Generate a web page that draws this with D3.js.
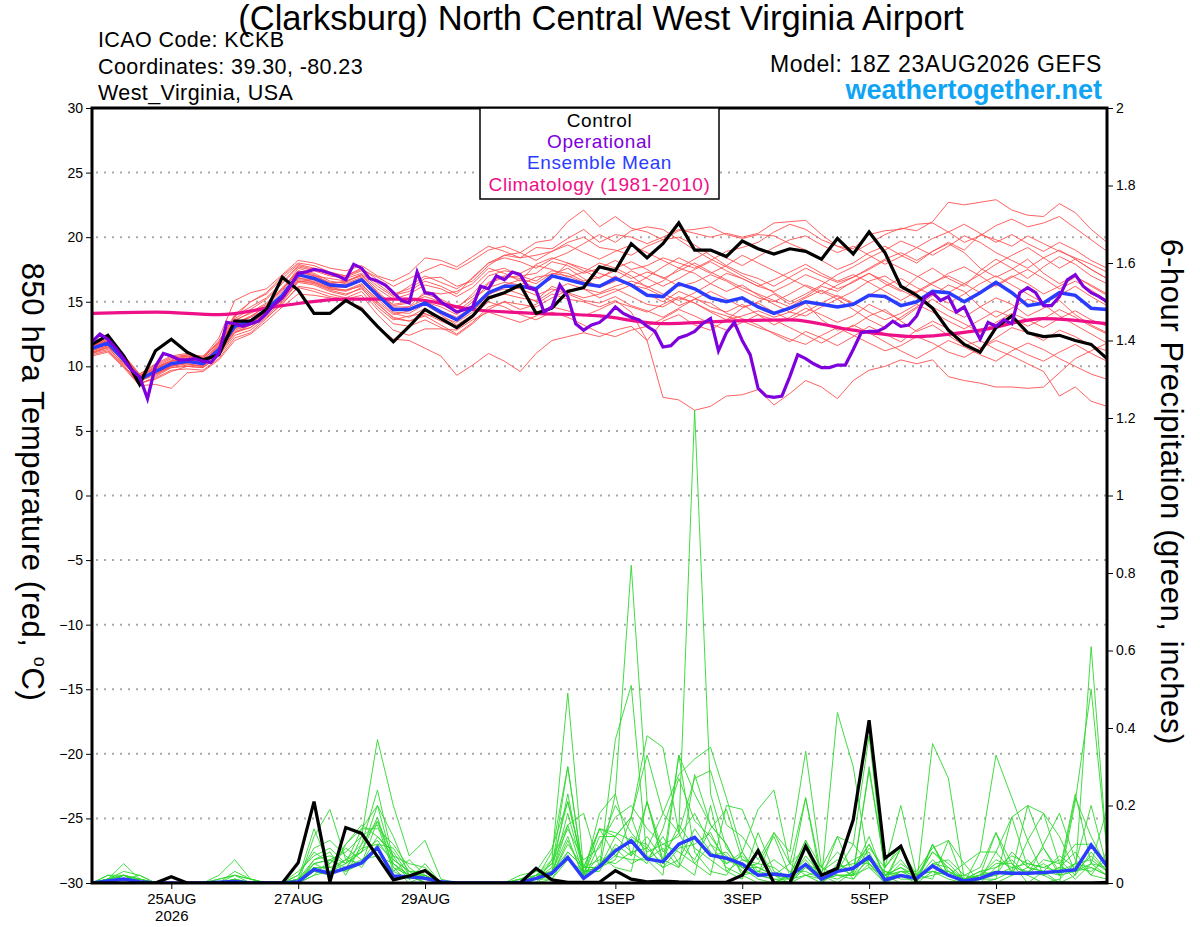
<!DOCTYPE html>
<html>
<head>
<meta charset="utf-8">
<script src="https://cdn.jsdelivr.net/npm/d3@7"></script>
<style>
  body { margin: 0; background: #fff; }
  text { font-family: "Liberation Sans", Arial, Helvetica, sans-serif; }
</style>
</head>
<body>
<svg id="chart"></svg>
<script>
// time axis: GEFS run 18Z 23AUG2026, 6-hourly to +384h
var startTime = Date.UTC(2026, 7, 23, 18);
var stepHours = 6;
var operStepHours = 3;
var climStepHours = 24;

var xTickDates = ["2026-08-25", "2026-08-27", "2026-08-29", "2026-09-01", "2026-09-03", "2026-09-05", "2026-09-07"];
var xTickLabels = ["25AUG", "27AUG", "29AUG", "1SEP", "3SEP", "5SEP", "7SEP"];
var tempTicks = [-30, -25, -20, -15, -10, -5, 0, 5, 10, 15, 20, 25, 30];
var precipTicks = [0, 0.2, 0.4, 0.6, 0.8, 1, 1.2, 1.4, 1.6, 1.8, 2];

// 850 hPa temperature (C)
var controlTemp = [11.7,12.4,10.8,8.6,11.2,12.1,11.1,10.5,10.9,13.5,13.5,14.4,16.9,15.9,14.1,14.1,15.1,14.4,13.1,11.9,
  13.1,14.4,13.7,13.0,13.9,15.3,15.7,16.3,14.1,14.5,15.8,16.1,17.7,17.4,19.5,18.4,19.5,21.1,19.0,19.0,
  18.5,19.7,19.1,18.7,19.1,18.9,18.3,19.9,18.7,20.4,18.8,16.2,15.5,14.5,12.8,11.7,11.1,13.0,13.9,12.6,
  12.3,12.4,12.0,11.7,10.6];

var meanTemp = [11.4,11.8,10.5,9.0,9.6,10.2,10.4,10.2,11.3,13.1,13.5,14.4,15.5,17.1,16.8,16.3,16.2,16.7,15.5,14.4,
  14.4,14.9,14.2,13.6,14.5,15.7,16.2,16.2,16.0,17.0,16.7,16.4,16.2,16.8,16.3,15.5,15.4,16.4,16.0,15.3,
  15.0,15.3,14.6,14.1,14.5,15.0,14.8,14.6,14.8,15.5,15.4,14.7,15.0,15.8,15.7,15.0,15.7,16.5,15.7,14.7,
  14.9,15.7,15.5,14.5,14.4];

// operational run, 3-hourly
var operTemp = [11.9,12.5,12.1,11.4,10.6,9.7,9.2,7.5,10.0,11.0,10.8,10.5,10.5,10.6,10.4,10.3,11.0,13.4,13.3,13.1,
  13.3,13.5,14.1,14.8,15.3,16.2,17.2,17.3,17.5,17.4,17.2,17.0,16.7,17.9,17.6,16.8,16.6,16.3,15.7,15.1,
  14.9,17.3,15.7,15.6,15.0,14.6,14.2,14.4,14.6,16.2,16.0,17.0,16.7,17.3,17.1,16.1,15.9,14.2,14.6,16.3,
  15.4,13.3,12.8,13.2,13.4,13.9,14.6,14.1,13.8,13.6,13.1,12.7,11.5,11.6,12.2,12.4,12.7,13.3,13.7,11.2,
  12.6,13.4,12.0,10.9,8.3,7.7,7.6,7.7,9.2,10.9,10.6,10.2,9.9,9.9,10.1,10.1,11.3,12.6,12.7,12.7,
  13.0,13.5,13.1,13.2,13.9,15.3,15.7,15.1,15.4,14.2,14.6,13.3,12.1,13.4,13.1,13.6,13.3,15.7,16.1,15.7,
  14.7,14.7,15.4,16.7,17.1,16.2,15.7,15.4,15.0];

// climatology 1981-2010, daily
var climTemp = [14.1,14.2,14.0,14.7,15.2,15.2,14.4,14.1,13.9,13.3,13.5,13.6,12.8,12.3,12.8,13.7,13.3];

// ensemble members
var tempMembers = [
  [11.8,12.3,10.9,9.4,10.2,10.8,11.0,10.6,12.0, 13.8,15.0,15.6,16.8,17.9,17.6,17.2,17.0,17.5,16.9,16.2,16.8,17.4,
   17.9,17.5,18.2,19.0,19.3,18.8,19.6,19.8,21.2,22.1,20.8,21.6,20.7,20.4,19.8,20.5,20.6,20.8,20.2,19.9,20.2,
   20.1,19.5,19.0,18.2,17.5,18.0,18.8,19.3,18.6,18.0,18.9,19.5,18.8,17.6,16.9,17.5,18.3,17.2,16.4,17.0,16.2,15.5],
  [11.0,11.5,10.1,8.7,9.0,9.6,10.0,9.9,10.9, 12.6,13.0,14.0,15.2,16.6,16.4,15.9,15.6,16.0,14.8,13.8,13.5,13.9,
   13.2,12.5,13.4,14.6,15.0,14.4,14.8,15.6,15.2,15.0,14.6,15.1,14.2,12.0,7.6,7.4,6.6,6.9,7.7,7.8,8.2,
   7.0,7.9,8.9,8.4,7.5,8.9,9.7,10.0,10.5,10.2,10.5,9.2,8.9,8.7,8.4,8.4,8.3,8.4,9.5,10.6,11.2,11.8],
  [11.2,11.6,10.3,8.9,9.3,10.0,10.5,10.4,11.0, 12.9,13.3,14.2,15.4,16.9,16.5,16.0,15.8,16.3,15.2,14.1,13.8,14.5,
   13.6,12.9,13.8,15.2,15.6,15.3,15.1,16.2,15.7,15.3,15.6,16.0,15.4,14.8,14.6,15.3,14.9,14.2,13.6,13.9,14.3,
   13.8,14.2,14.9,13.6,12.8,13.1,13.9,14.4,13.5,12.7,13.2,12.4,11.6,12.0,11.3,10.8,10.2,9.6,7.7,8.4,7.3,6.9],
  [10.8,11.1,9.9,8.5,8.6,8.3,9.5,9.6,10.5, 12.0,12.5,13.5,14.6,15.6,15.5,15.3,15.0,14.6,13.1,12.1,12.0,11.4,
   10.8,9.3,10.1,11.0,10.4,9.6,11.0,12.0,12.3,12.6,12.3,12.8,13.1,12.0,13.5,14.0,13.2,12.8,13.6,14.5,15.0,
   15.6,14.8,15.4,16.2,15.8,16.6,17.2,16.4,15.8,16.9,17.6,16.8,16.2,17.4,18.3,17.6,16.8,17.7,18.5,17.9,17.0,16.4],
  [11.6,12.0,10.7,9.2,9.9,10.5,10.9,10.8,11.8, 13.5,14.2,14.9,16.0,17.3,17.0,16.8,16.6,17.1,16.0,15.2,15.6,16.3,
   16.0,15.4,16.1,17.3,17.6,17.0,17.2,18.1,17.8,17.2,17.6,18.2,17.5,17.8,18.4,18.0,17.6,18.2,18.9,19.2,19.6,
   20.4,21.0,20.6,19.8,19.3,18.8,19.5,20.2,20.7,20.5,21.2,22.7,22.5,22.7,22.9,22.1,21.7,21.6,22.6,21.9,20.6,19.6],
  [11.3,11.9,10.6,9.1,9.7,10.3,10.2,10.0,11.3, 13.3,13.9,14.6,15.8,17.4,17.1,16.4,16.6,17.0,15.8,14.7,14.9,15.6,
   15.2,14.6,15.4,16.5,17.0,16.8,16.4,17.2,17.0,16.5,16.2,17.0,16.2,15.6,15.0,15.8,15.3,14.6,14.2,14.8,14.0,
   13.2,13.8,14.5,14.0,13.4,13.9,14.8,14.2,13.6,14.5,15.2,14.4,13.8,14.6,15.3,14.8,13.9,14.5,15.1,14.0,13.2,12.6],
  [11.5,11.7,10.4,8.8,9.5,10.1,10.3,10.3,11.6, 13.6,14.1,14.8,15.9,17.6,17.2,16.6,16.4,16.9,15.5,14.2,14.1,14.8,
   14.0,13.2,14.0,15.5,16.3,16.7,16.0,16.8,18.0,17.4,16.8,17.6,17.0,16.1,16.6,17.6,17.2,16.4,15.8,16.3,15.5,
   14.8,14.2,13.9,14.6,15.2,14.4,13.6,13.0,13.8,14.6,15.5,16.3,15.8,14.6,13.8,14.5,15.2,14.8,13.9,13.2,12.5,11.8],
  [11.1,11.4,10.2,9.0,9.8,10.4,10.7,10.6,11.9, 14.0,15.0,15.7,17.0,18.0,17.8,17.3,17.0,17.6,16.7,15.6,16.0,16.8,
   16.9,16.2,16.6,17.8,18.6,18.4,18.6,18.9,19.6,20.0,19.2,19.0,18.6,19.3,19.8,20.0,19.4,18.6,17.8,17.2,16.8,
   16.2,16.9,17.6,17.0,16.5,16.9,17.6,18.3,18.8,18.2,18.9,19.6,19.0,20.2,19.8,19.3,20.1,19.5,18.9,18.4,17.9,17.3],
  [11.9,12.2,10.6,9.3,9.9,10.4,10.6,10.4,11.5, 13.0,13.3,14.1,15.1,16.6,16.5,16.0,15.9,16.4,15.0,14.0,14.3,14.9,
   14.3,13.8,14.6,15.8,16.2,16.0,15.5,16.0,15.6,15.1,14.9,15.4,14.7,14.3,13.8,14.5,15.2,14.9,14.1,13.7,13.2,
   12.5,11.9,12.7,12.2,11.6,12.3,13.1,12.5,11.9,12.8,13.5,12.9,12.1,11.4,12.2,13.0,12.6,12.0,12.8,12.3,11.6,11.2],
  [11.4,11.8,10.5,9.1,9.6,10.2,10.4,10.1,11.2, 12.8,13.2,14.3,15.2,16.8,16.7,16.2,16.1,16.6,15.3,14.5,14.4,15.0,
   14.6,14.0,15.0,16.4,16.9,17.0,16.6,17.4,17.2,16.6,16.9,17.4,16.8,17.3,16.9,16.2,16.5,17.1,16.6,15.9,15.3,
   15.0,15.6,16.3,15.8,15.2,15.8,16.6,17.0,16.2,15.7,16.4,17.2,17.7,17.0,16.2,16.9,17.5,16.8,16.0,16.6,15.9,15.1],
  [11.0,11.3,10.0,8.6,9.2,9.9,10.0,9.9,10.8, 12.4,12.8,13.8,14.8,16.2,16.0,15.6,15.3,15.8,14.4,13.3,13.1,13.6,
   13.0,12.4,13.3,14.4,15.0,14.8,14.6,15.3,15.9,16.0,15.7,16.2,16.6,16.2,15.6,15.1,15.7,16.4,17.2,16.8,16.2,
   15.8,16.4,17.1,16.6,16.0,16.5,17.2,16.6,15.9,15.3,14.6,13.9,13.3,12.6,13.4,14.1,13.6,13.0,13.7,14.3,13.6,13.1],
  [11.7,12.1,10.8,9.3,10.0,10.6,10.8,10.5,11.7, 13.7,14.4,15.2,16.4,17.7,17.4,17.0,16.8,17.2,16.2,15.4,16.2,17.0,
   16.5,16.0,16.8,18.0,18.4,18.1,17.6,18.3,18.8,19.5,20.2,19.6,20.5,20.8,20.6,19.8,19.0,18.3,17.7,17.0,16.4,
   15.7,15.0,15.6,16.3,17.1,17.7,18.4,19.0,19.7,19.2,18.6,19.3,20.1,19.6,18.8,18.2,17.6,18.4,19.0,18.3,17.5,16.8],
  [11.2,11.6,10.4,9.2,9.4,9.9,10.1,10.0,11.1, 12.7,13.0,13.9,15.0,16.5,16.3,15.8,15.5,16.1,14.6,13.6,13.9,14.1,
   13.5,13.0,13.9,15.0,14.6,14.0,13.6,14.2,13.8,13.2,12.6,12.3,12.8,13.1,13.7,14.4,13.9,13.3,12.8,13.4,14.0,
   13.6,13.0,12.4,11.8,12.5,13.2,12.6,11.9,11.2,10.6,11.3,12.0,11.5,10.9,10.4,11.2,11.8,11.3,10.6,10.0,9.4,9.0],
  [11.6,11.9,10.6,9.0,9.5,10.0,10.3,10.2,11.4, 13.2,13.6,14.5,15.6,17.0,16.9,16.4,16.3,16.8,15.6,14.8,15.0,15.4,
   15.0,14.5,15.6,17.0,17.4,17.2,17.8,17.5,16.9,17.3,18.0,17.6,18.1,17.5,16.8,17.4,18.0,17.3,16.7,16.1,15.6,
   15.1,14.6,15.3,15.9,15.4,14.8,15.5,16.2,16.8,16.1,15.5,14.9,15.6,16.4,17.0,16.3,15.6,14.9,15.5,16.2,15.4,14.7],
  [11.3,11.7,10.3,8.9,9.6,10.2,10.6,10.5,11.6, 13.4,13.8,14.7,16.1,17.4,17.0,16.5,16.5,17.1,15.7,14.6,14.6,15.2,
   14.8,14.2,15.2,16.1,16.5,16.3,16.9,17.1,17.6,16.8,16.1,16.6,17.4,16.8,16.2,16.8,17.5,18.1,17.4,16.8,16.2,
   16.7,17.3,17.9,17.2,16.6,17.1,16.5,15.8,15.1,15.8,16.5,17.0,16.4,15.7,16.3,17.0,16.4,15.6,16.2,16.9,16.3,15.6],
  [11.5,12.0,10.8,9.4,10.1,10.7,10.9,10.7,12.2, 15.1,15.7,16.0,17.1,18.2,18.0,17.6,17.4,17.8,17.0,16.6,17.2,18.4,
   18.2,17.7,18.5,19.3,18.9,18.4,19.2,19.1,19.9,20.6,19.6,20.2,20.0,19.5,20.0,20.6,20.3,20.0,20.3,20.0,20.3,
   21.1,21.2,21.3,20.2,19.3,19.1,20.2,20.5,20.6,21.0,21.1,20.4,19.6,20.1,20.9,21.4,20.8,21.1,21.6,20.7,19.8,18.9],
  [10.9,11.2,10.0,8.7,9.1,9.7,9.8,9.7,10.6, 12.2,12.6,13.7,14.9,16.1,15.8,15.4,15.2,15.5,14.0,12.8,12.4,12.9,
   12.9,12.8,13.6,14.2,13.8,13.4,13.9,14.6,14.3,13.9,14.4,15.0,14.6,14.2,14.8,15.4,14.9,14.3,13.9,13.5,13.0,
   12.6,12.1,11.7,12.4,13.0,12.4,11.8,11.2,11.6,12.3,11.8,11.1,10.7,11.4,12.0,11.5,10.9,10.4,11.1,11.7,11.0,10.4],
  [11.8,12.2,10.9,9.2,9.8,10.4,10.5,10.3,11.5, 13.3,13.8,14.4,15.5,17.2,16.8,16.1,16.2,16.6,15.4,14.4,14.6,15.8,
   15.6,15.8,16.4,17.6,17.2,16.6,17.9,18.4,18.0,17.6,17.2,16.8,16.2,16.9,17.7,18.4,17.8,17.2,17.8,18.6,18.0,
   17.4,16.8,16.2,15.6,16.3,16.9,17.5,18.2,17.6,17.0,16.3,15.7,16.4,17.1,17.9,18.6,19.2,18.4,17.6,18.3,17.5,16.8],
  [11.1,11.5,10.4,9.0,9.4,10.0,10.2,10.0,11.0, 12.6,13.2,14.0,15.3,16.7,16.6,16.1,15.9,16.2,14.9,13.7,13.5,14.0,
   13.8,13.4,14.2,15.6,16.0,15.6,15.0,15.8,16.4,16.0,15.3,15.8,16.3,16.0,15.4,14.7,15.2,15.8,15.2,14.6,14.9,
   14.2,13.6,14.2,14.9,15.5,14.9,14.2,13.6,14.1,14.8,14.2,13.5,12.9,13.6,14.3,13.8,13.1,13.7,14.4,13.8,13.1,12.5],
  [11.6,12.1,10.6,9.2,9.9,10.4,10.8,10.7,11.8, 13.9,14.6,15.3,16.5,17.8,17.5,17.1,16.9,17.4,16.4,15.5,15.8,16.6,
   16.2,15.6,16.9,18.0,18.6,18.8,18.2,18.9,19.4,18.8,18.3,18.9,19.4,18.8,18.2,17.6,18.3,19.0,18.4,17.8,18.5,
   19.2,19.8,20.1,19.4,18.8,19.3,18.6,17.9,18.5,19.2,19.9,20.4,21.0,20.3,19.6,20.2,19.5,18.9,19.6,19.0,18.2,17.6]
];

// 6-hour precipitation (inches)
var controlPrecip = [0,0,0,0,0,0.016,0,0,0,0, 0,0,0,0.052,0.21,0.003,0.143,0.128,0.068,0.008,
  0.018,0.032,0,0,0,0,0,0,0.038,0.008, 0.002,0.002,0.002,0.032,0.01,0.003,0.005,0.003,0.002,0.002,
  0.002,0.02,0.083,0,0,0.095,0.02,0.038,0.163,0.42, 0.064,0.095,0,0,0,0,0,0,0,0, 0,0,0,0,0.002];

var meanPrecip = [0,0.005,0.01,0.003,0,0,0,0,0.002,0.004, 0,0,0,0.003,0.035,0.025,0.038,0.052,0.091,0.018,
  0.016,0.012,0.003,0,0,0,0,0.001,0.012,0.025, 0.066,0.012,0.042,0.083,0.109,0.062,0.055,0.1,0.118,0.072,
  0.064,0.049,0.02,0.023,0.018,0.048,0.01,0.03,0.038,0.068, 0.008,0.019,0.012,0.044,0.02,0.005,0.012,0.027,0.025,0.025,
  0.027,0.03,0.034,0.098,0.044];

var precipMembers = [
  [0,0.01,0.05,0.01,0,0,0,0,0,0, 0,0,0,0.02,0.08,0.05,0.1,0.14,0.2,0.05, 0.02,0,0,0,0,0,0,0.01,0.02,0.05,
   0.21,0.04,0.14,0.07,0.12,0.09,0.18,0.13,1.22,0.23, 0.09,0.04,0.01,0,0,0.05,0.02,0,0.03,0.1,
   0.02,0,0,0.03,0.02,0,0,0.04,0.06,0.02, 0,0.01,0.05,0.2,0.04],
  [0,0,0.02,0.01,0,0,0,0,0,0, 0,0,0,0.01,0.14,0.04,0.06,0.1,0.16,0.07, 0.01,0.03,0,0,0,0,0,0,0.01,0.08,
   0.3,0.02,0.18,0.23,0.82,0.21,0.06,0.04,0.28,0.15, 0.1,0.02,0,0,0.02,0.11,0.01,0.12,0.1,0.05,
   0,0.09,0,0.1,0.03,0.01,0.02,0.13,0.05,0, 0.03,0,0.02,0.61,0.08],
  [0,0.01,0.03,0.02,0,0,0,0,0.02,0.06, 0.01,0,0,0,0.05,0.06,0.08,0.12,0.37,0.2, 0.07,0.11,0.01,0,0,0,0,0,0.02,0.06,
   0.49,0.03,0.04,0.12,0.17,0.38,0.35,0.13,0.05,0.02, 0.2,0.19,0.09,0.02,0,0.02,0,0.04,0.02,0.09,
   0.04,0.2,0.02,0.01,0.11,0.05,0,0,0.02,0.11, 0.18,0.05,0.01,0.05,0.19],
  [0,0,0.01,0,0,0,0,0,0,0.02, 0,0,0,0,0.12,0.19,0.06,0.05,0.16,0.04, 0,0.02,0,0,0,0,0,0.02,0.03,0.02,
   0.15,0.18,0.04,0.37,0.51,0.06,0.02,0.33,0.08,0.03, 0.02,0.08,0.19,0.24,0.05,0.02,0.01,0.44,0.3,0.04,
   0,0.02,0,0.36,0.27,0.01,0,0.01,0.03,0.2, 0.09,0.03,0.23,0.05,0.02],
  [0,0.02,0.02,0,0,0,0,0,0,0, 0,0,0,0.01,0.04,0.02,0.1,0.15,0.12,0.07, 0.05,0.04,0,0,0,0,0,0,0.02,0.03,
   0.23,0.02,0.14,0.12,0.17,0.33,0.18,0.28,0.32,0.35, 0.22,0.08,0.02,0.13,0.08,0.34,0.04,0.12,0.02,0.3,
   0.04,0.09,0.01,0.1,0.02,0.05,0.08,0.33,0.22,0.11, 0.02,0,0.21,0.5,0.08],
  [0,0.01,0.01,0.02,0,0,0,0,0.01,0.02, 0.01,0,0,0.03,0.07,0.09,0.05,0.08,0.2,0.12, 0.02,0.01,0,0,0,0,0,0.01,0,0.01,
   0.08,0.04,0.04,0.23,0.07,0.21,0.08,0.13,0.27,0.29, 0.15,0.12,0.06,0.13,0.05,0.22,0.02,0.03,0.1,0.38,
   0.02,0.03,0.03,0.09,0.11,0,0.08,0.08,0.17,0.2, 0.18,0.12,0.03,0.07,0.03],
  [0,0,0.01,0.01,0,0,0,0,0,0.01, 0,0,0,0,0.02,0.06,0.03,0.12,0.15,0.03, 0.06,0.02,0,0,0,0,0,0,0.01,0.04,
   0.3,0.02,0.12,0.12,0.08,0.09,0.05,0.33,0.23,0.15, 0.1,0.02,0.09,0,0.02,0.11,0.04,0.02,0.02,0.06,
   0.01,0.09,0.02,0.08,0.04,0,0.01,0.08,0.03,0.02, 0.1,0.18,0.06,0.02,0.08],
  [0,0.01,0.02,0,0,0,0,0,0,0, 0,0,0,0.02,0.09,0.11,0.07,0.04,0.1,0.09, 0.03,0,0,0,0,0,0,0.01,0.03,0.09,
   0.21,0.04,0.04,0.06,0.17,0.06,0.12,0.05,0.02,0.2, 0.03,0.01,0.13,0.03,0.01,0.22,0,0.05,0.03,0.29,
   0.04,0.1,0,0.1,0.02,0.02,0.01,0.01,0.17,0.04, 0.09,0.02,0.22,0.12,0.04],
  [0,0,0,0,0,0,0,0,0,0.03, 0.01,0,0,0,0.05,0.03,0.06,0.08,0.11,0.05, 0.02,0.02,0,0,0,0,0,0,0,0.06,
   0.15,0.02,0.07,0.04,0.03,0.21,0.05,0.1,0.06,0.14, 0.19,0.06,0.05,0.04,0.01,0.02,0.03,0.06,0.01,0.07,
   0.03,0.01,0.01,0.08,0.05,0.01,0.02,0.03,0.02,0.04, 0.03,0.02,0.03,0.04,0.02],
  [0,0.01,0.01,0,0,0,0,0,0,0, 0,0,0,0,0.03,0.02,0.04,0.06,0.09,0.03, 0.01,0.05,0,0,0,0,0,0,0.01,0.02,
   0.1,0.04,0.14,0.13,0.11,0.1,0.04,0.06,0.14,0.08, 0.05,0.07,0.03,0.02,0.05,0.09,0,0.03,0.06,0.08,
   0,0.03,0.01,0.02,0.03,0.01,0.02,0.05,0.05,0.02, 0.06,0.05,0.1,0.1,0.05],
  [0,0,0.01,0.01,0,0,0,0,0,0.01, 0,0,0,0.01,0.06,0.08,0.02,0.1,0.24,0.06, 0.03,0.03,0,0,0,0,0,0,0.02,0.03,
   0.08,0.04,0.06,0.05,0.08,0.05,0.14,0.27,0.16,0.12, 0.06,0.04,0.05,0.12,0.02,0.06,0.01,0.04,0.05,0.05,
   0.02,0.06,0.01,0.06,0.02,0.01,0.03,0.02,0.08,0.04, 0.03,0.07,0.04,0.03,0.06],
  [0,0.01,0.02,0.01,0,0,0,0,0,0, 0,0,0,0,0.06,0.07,0.05,0.14,0.14,0.1, 0.04,0.01,0,0,0,0,0,0,0.01,0.02,
   0.18,0.03,0.04,0.07,0.06,0.06,0.09,0.04,0.12,0.07, 0.08,0.03,0.02,0.01,0,0.04,0.02,0.01,0.03,0.12,
   0.01,0.05,0.02,0.03,0.01,0,0.01,0.02,0.04,0.05, 0.04,0.03,0.05,0.06,0.03],
  [0,0,0.02,0,0,0,0,0,0,0.01, 0,0,0,0,0.04,0.04,0.03,0.05,0.12,0.08, 0.02,0,0,0,0,0,0,0,0,0.03,
   0.12,0.01,0.1,0.17,0.2,0.14,0.1,0.08,0.05,0.1, 0.04,0.02,0.03,0.06,0.03,0.03,0.01,0.02,0.02,0.04,
   0.02,0.04,0.01,0.05,0.06,0.02,0.04,0.13,0.02,0.03, 0.02,0.04,0.08,0.02,0.01],
  [0,0.02,0.01,0.01,0,0,0,0,0,0, 0,0,0,0.01,0.03,0.05,0.09,0.06,0.07,0.05, 0.01,0.02,0,0,0,0,0,0,0.01,0.01,
   0.06,0.03,0.03,0.1,0.07,0.12,0.06,0.15,0.09,0.06, 0.03,0.06,0.04,0.02,0.01,0.07,0.02,0.03,0.04,0.06,
   0.03,0.02,0.01,0.05,0.04,0.01,0.02,0.06,0.04,0.03, 0.05,0.02,0.05,0.04,0.02],
  [0,0.01,0.01,0,0,0,0,0,0,0, 0,0,0,0,0.02,0.03,0.05,0.08,0.17,0.04, 0.02,0.01,0,0,0,0,0,0,0.01,0.05,
   0.14,0.06,0.09,0.2,0.13,0.08,0.1,0.12,0.18,0.1, 0.07,0.04,0.04,0.02,0.02,0.05,0.03,0.08,0.04,0.1,
   0.02,0.04,0.02,0.04,0.03,0.01,0.03,0.04,0.07,0.05, 0.04,0.06,0.02,0.08,0.03],
  [0,0.01,0.02,0.01,0,0,0,0,0.01,0.02, 0.01,0,0,0.01,0.05,0.06,0.04,0.09,0.1,0.06, 0.03,0.02,0,0,0,0,0,0,0.02,0.02,
   0.11,0.02,0.05,0.09,0.05,0.07,0.04,0.09,0.1,0.13, 0.05,0.08,0.02,0.01,0.01,0.04,0.01,0.02,0.01,0.05,
   0.01,0.03,0.02,0.03,0.02,0,0.02,0.03,0.03,0.06, 0.02,0.04,0.03,0.05,0.04]
];

var legendItems = ["Control", "Operational", "Ensemble Mean", "Climatology (1981-2010)"];
var legendColors = ["#000000", "#7e00dc", "#2a3cff", "#ee1088"];

var screen = { width: 1200, height: 927 };
var margins = { top: 108, bottom: 44, left: 92, right: 93 };
var width = screen.width - margins.left - margins.right;
var height = screen.height - margins.top - margins.bottom;

var svg = d3.select("#chart")
            .attr("width", screen.width)
            .attr("height", screen.height);

var timeAt = function(i, hours)
{
  return new Date(startTime + i * hours * 3600 * 1000);
};

var xScale = d3.scaleUtc()
               .domain([timeAt(0, stepHours), timeAt(controlTemp.length - 1, stepHours)])
               .range([0, width]);
var yTemp = d3.scaleLinear()
              .domain([-30, 30])
              .range([height, 0]);
var yPrecip = d3.scaleLinear()
                .domain([0, 2])
                .range([height, 0]);

var plot = svg.append("g")
              .attr("transform", "translate(" + margins.left + "," + margins.top + ")");

svg.append("clipPath").attr("id", "clip")
   .append("rect").attr("width", width).attr("height", height);

// dotted grid on the temperature ticks
plot.append("g").selectAll("line")
    .data(tempTicks.filter(function(d) { return d > -30 && d < 30; }))
    .enter()
    .append("line")
    .attr("x1", 4)
    .attr("x2", width)
    .attr("y1", function(d) { return yTemp(d); })
    .attr("y2", function(d) { return yTemp(d); })
    .attr("stroke", "#a8a8a8")
    .attr("stroke-width", 2)
    .attr("stroke-dasharray", "2,6");

var lineOf = function(yScale, hours)
{
  return d3.line()
           .x(function(d, i) { return xScale(timeAt(i, hours)); })
           .y(function(d) { return yScale(d); });
};

var lines = plot.append("g").attr("clip-path", "url(#clip)");

lines.selectAll("path.member")
     .data(tempMembers)
     .enter()
     .append("path")
     .classed("member", true)
     .attr("d", lineOf(yTemp, stepHours))
     .attr("fill", "none")
     .attr("stroke", "#ff5050")
     .attr("stroke-width", 0.9);

lines.selectAll("path.pmember")
     .data(precipMembers)
     .enter()
     .append("path")
     .classed("pmember", true)
     .attr("d", lineOf(yPrecip, stepHours))
     .attr("fill", "none")
     .attr("stroke", "#2ed82e")
     .attr("stroke-width", 0.9);

lines.append("path")
     .attr("d", lineOf(yTemp, climStepHours).curve(d3.curveMonotoneX)(climTemp))
     .attr("fill", "none")
     .attr("stroke", legendColors[3])
     .attr("stroke-width", 3.2);

lines.append("path")
     .attr("d", lineOf(yTemp, stepHours)(meanTemp))
     .attr("fill", "none")
     .attr("stroke", legendColors[2])
     .attr("stroke-width", 3.5);

lines.append("path")
     .attr("d", lineOf(yTemp, stepHours)(controlTemp))
     .attr("fill", "none")
     .attr("stroke", legendColors[0])
     .attr("stroke-width", 3.2);

lines.append("path")
     .attr("d", lineOf(yTemp, operStepHours)(operTemp))
     .attr("fill", "none")
     .attr("stroke", legendColors[1])
     .attr("stroke-width", 3.2);

lines.append("path")
     .attr("d", lineOf(yPrecip, stepHours)(meanPrecip))
     .attr("fill", "none")
     .attr("stroke", legendColors[2])
     .attr("stroke-width", 3.5);

lines.append("path")
     .attr("d", lineOf(yPrecip, stepHours)(controlPrecip))
     .attr("fill", "none")
     .attr("stroke", legendColors[0])
     .attr("stroke-width", 3.2);

// axes
var axisFont = "'Liberation Sans', Arial, sans-serif";

var yAxis = d3.axisLeft(yTemp)
              .tickValues(tempTicks)
              .tickSize(6)
              .tickPadding(3);
plot.append("g").call(yAxis)
    .attr("font-size", 14).attr("font-family", axisFont)
    .call(function(g) { g.select(".domain").remove(); });

var yAxisRight = d3.axisRight(yPrecip)
                   .tickValues(precipTicks)
                   .tickSize(6)
                   .tickPadding(3)
                   .tickFormat(function(d) { return String(Math.round(d * 10) / 10); });
plot.append("g").call(yAxisRight)
    .attr("transform", "translate(" + width + ",0)")
    .attr("font-size", 14).attr("font-family", axisFont)
    .call(function(g) { g.select(".domain").remove(); });

var xAxis = d3.axisBottom(xScale)
              .tickValues(xTickDates.map(function(d) { return new Date(d + "T00:00:00Z"); }))
              .tickFormat(function(d, i) { return xTickLabels[i]; })
              .tickSize(6)
              .tickPadding(4);
var xg = plot.append("g").call(xAxis)
             .attr("transform", "translate(0," + height + ")")
             .attr("font-size", 15).attr("font-family", axisFont)
             .call(function(g) { g.select(".domain").remove(); });
xg.selectAll(".tick").filter(function(d, i) { return i == 0; })
  .append("text")
  .attr("fill", "#000")
  .attr("y", 10)
  .attr("dy", "1.85em")
  .text("2026");

// frame
plot.append("rect")
    .attr("width", width)
    .attr("height", height)
    .attr("fill", "none")
    .attr("stroke", "#000")
    .attr("stroke-width", 3);

// legend
var legend = svg.append("g")
                .attr("transform", "translate(480," + margins.top + ")");
legend.append("rect")
      .attr("width", 239)
      .attr("height", 91)
      .attr("fill", "#fff")
      .attr("stroke", "#000")
      .attr("stroke-width", 1.5);
legend.selectAll("text")
      .data(legendItems)
      .enter()
      .append("text")
      .attr("x", 119.5)
      .attr("y", function(d, i) { return 19 + i * 21.2; })
      .attr("text-anchor", "middle")
      .attr("font-size", 19)
      .attr("letter-spacing", 0.6)
      .attr("fill", function(d, i) { return legendColors[i]; })
      .text(function(d) { return d; });

// header texts
svg.append("text")
   .attr("x", 601).attr("y", 30)
   .attr("text-anchor", "middle")
   .attr("font-size", 34.5)
   .text("(Clarksburg) North Central West Virginia Airport");

var infoLines = ["ICAO Code: KCKB", "Coordinates: 39.30, -80.23", "West_Virginia, USA"];
svg.selectAll("text.info")
   .data(infoLines)
   .enter()
   .append("text")
   .classed("info", true)
   .attr("x", 98)
   .attr("y", function(d, i) { return 47 + i * 26.5; })
   .attr("font-size", 21.5)
   .attr("letter-spacing", 0.4)
   .text(function(d) { return d; });

svg.append("text")
   .attr("x", 1102).attr("y", 72)
   .attr("text-anchor", "end")
   .attr("font-size", 23)
   .attr("letter-spacing", 0.6)
   .text("Model: 18Z 23AUG2026 GEFS");

svg.append("text")
   .attr("x", 1102).attr("y", 99)
   .attr("text-anchor", "end")
   .attr("font-size", 27)
   .attr("font-weight", "bold")
   .attr("fill", "#10a4f4")
   .text("weathertogether.net");

// axis titles, both read top to bottom
var leftTitle = svg.append("text")
                   .attr("transform", "translate(22,482) rotate(90)")
                   .attr("text-anchor", "middle")
                   .attr("font-size", 31)
                   .attr("letter-spacing", 0.6);
leftTitle.append("tspan").text("850 hPa Temperature (red, ");
leftTitle.append("tspan").attr("font-size", 18).attr("dy", -12).text("o");
leftTitle.append("tspan").attr("dy", 12).text("C)");

svg.append("text")
   .attr("transform", "translate(1161,492) rotate(90)")
   .attr("text-anchor", "middle")
   .attr("font-size", 31)
   .attr("letter-spacing", 0.6)
   .text("6-hour Precipitation (green, inches)");
</script>
</body>
</html>
